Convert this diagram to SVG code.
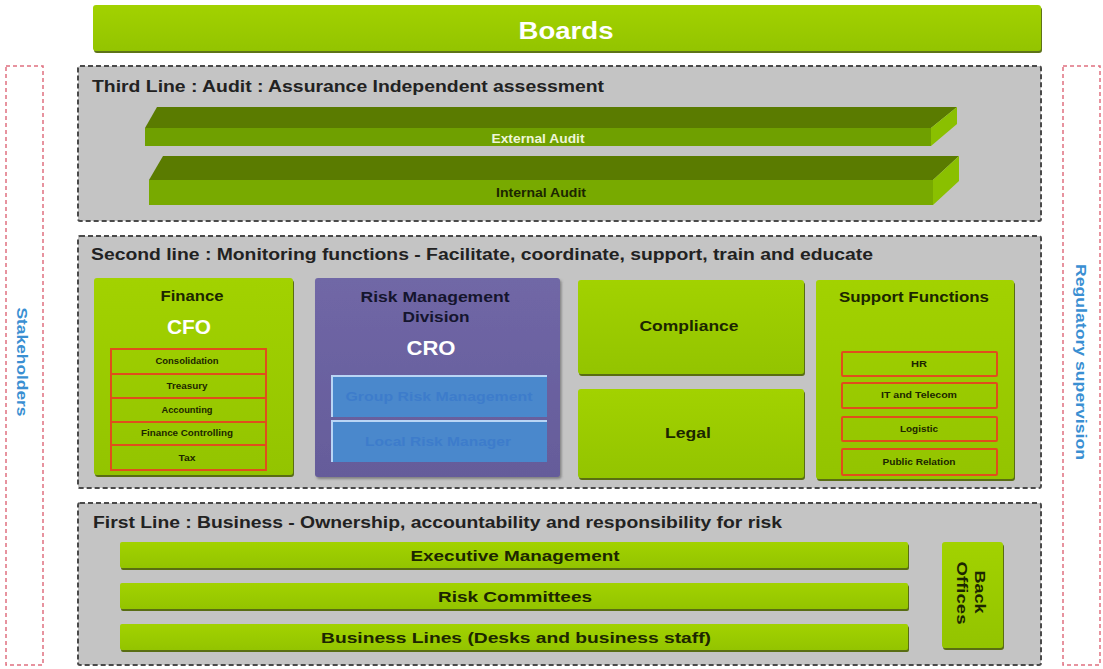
<svg xmlns="http://www.w3.org/2000/svg" width="1103" height="669" viewBox="0 0 1103 669">
  <defs>
    <linearGradient id="lime" x1="0" y1="0" x2="0" y2="1">
      <stop offset="0" stop-color="#a2d200"/>
      <stop offset="1" stop-color="#93c400"/>
    </linearGradient>
    <linearGradient id="violet" x1="0" y1="0" x2="0" y2="1">
      <stop offset="0" stop-color="#7067a6"/>
      <stop offset="1" stop-color="#655c9a"/>
    </linearGradient>
    <filter id="drop" x="-5%" y="-10%" width="110%" height="130%">
      <feDropShadow dx="1" dy="2" stdDeviation="0.7" flood-color="#4d6400" flood-opacity="0.9"/>
    </filter>
    <filter id="dropGrey" x="-5%" y="-10%" width="110%" height="130%">
      <feDropShadow dx="1.5" dy="2" stdDeviation="1" flood-color="#555" flood-opacity="0.6"/>
    </filter>
  </defs>
  <style>
    text { font-family: "Liberation Sans", Arial, sans-serif; font-weight: bold; }
    .panel { fill: #c4c4c4; stroke: #4a4a4a; stroke-width: 2; stroke-dasharray: 5 3; }
    .side { fill: none; stroke: #e07080; stroke-width: 1.5; stroke-dasharray: 4 3; }
    .bar { fill: url(#lime); filter: url(#drop); }
    .head { font-size: 16px; fill: #222; }
    .dark { fill: #1c2600; text-anchor: middle; }
    .lbl { font-size: 15px; }
    .small { font-size: 9px; }
    .item { fill: none; stroke: #e04e1c; stroke-width: 2; }
    .white { fill: #ffffff; text-anchor: middle; }
    .blue { fill: #3a8fd2; font-size: 14px; text-anchor: middle; }
    .sub { fill: #4a88cc; }
    .subtxt { fill: #3d7ccb; font-size: 13px; text-anchor: middle; }
  </style>

  <!-- Boards -->
  <g id="boards">
    <rect class="bar" x="93" y="5" width="948" height="46" rx="3"/>
    <text class="white" x="566" y="39" font-size="24" textLength="95" lengthAdjust="spacingAndGlyphs">Boards</text>
  </g>

  <!-- Stakeholders (left side) -->
  <g id="stakeholders">
    <rect class="side" x="6" y="66" width="37" height="599"/>
    <text class="blue" transform="translate(22,362) rotate(90)" dominant-baseline="central" textLength="109" lengthAdjust="spacingAndGlyphs">Stakeholders</text>
  </g>

  <!-- Regulatory supervision (right side) -->
  <g id="regulatory">
    <rect class="side" x="1063" y="66" width="37" height="599"/>
    <text class="blue" transform="translate(1081,362) rotate(90)" dominant-baseline="central" textLength="196" lengthAdjust="spacingAndGlyphs">Regulatory supervision</text>
  </g>

  <!-- Third line -->
  <g id="third-line">
    <rect class="panel" x="78" y="66" width="963" height="155" rx="2"/>
    <text class="head" x="92" y="92" textLength="512" lengthAdjust="spacingAndGlyphs">Third Line : Audit : Assurance  Independent assessment</text>
  </g>

  <g id="external-audit">
    <polygon points="157,107 957,107 931,128 145,128" fill="#5a7b00"/>
    <rect x="145" y="128" width="786" height="18" fill="#6fa000"/>
    <polygon points="931,128 957,107 957,124 931,146" fill="#8ac000"/>
    <text class="white" x="538" y="143" font-size="12" fill="#eef6d8" textLength="93" lengthAdjust="spacingAndGlyphs" style="fill:#eef6d8">External Audit</text>
  </g>

  <g id="internal-audit">
    <polygon points="163,156 959,156 933,180 149,180" fill="#5a7b00"/>
    <rect x="149" y="180" width="784" height="25" fill="#78aa00"/>
    <polygon points="933,180 959,156 959,181 933,205" fill="#8ac000"/>
    <text class="dark" x="541" y="197" font-size="12" textLength="90" lengthAdjust="spacingAndGlyphs">Internal Audit</text>
  </g>

  <!-- Second line -->
  <g id="second-line">
    <rect class="panel" x="78" y="236" width="963" height="252" rx="2"/>
    <text class="head" x="91" y="260" textLength="782" lengthAdjust="spacingAndGlyphs">Second line : Monitoring functions - Facilitate, coordinate, support, train and educate</text>
  </g>

  <g id="finance">
    <rect class="bar" x="94" y="278" width="199" height="197" rx="3"/>
    <text class="dark lbl" x="192" y="301" font-weight="normal" style="font-weight:600" textLength="63" lengthAdjust="spacingAndGlyphs">Finance</text>
    <text class="white" x="189" y="334" font-size="20" textLength="44" lengthAdjust="spacingAndGlyphs">CFO</text>
    <rect class="item" x="111" y="349" width="155" height="25"/>
    <rect class="item" x="111" y="374" width="155" height="24"/>
    <rect class="item" x="111" y="398" width="155" height="24"/>
    <rect class="item" x="111" y="422" width="155" height="23"/>
    <rect class="item" x="111" y="445" width="155" height="25"/>
    <text class="dark small" x="187" y="364" textLength="63" lengthAdjust="spacingAndGlyphs">Consolidation</text>
    <text class="dark small" x="187" y="389" textLength="41" lengthAdjust="spacingAndGlyphs">Treasury</text>
    <text class="dark small" x="187" y="413" textLength="51" lengthAdjust="spacingAndGlyphs">Accounting</text>
    <text class="dark small" x="187" y="436" textLength="92" lengthAdjust="spacingAndGlyphs">Finance Controlling</text>
    <text class="dark small" x="187" y="461" textLength="17" lengthAdjust="spacingAndGlyphs">Tax</text>
  </g>

  <g id="risk-management">
    <rect x="315" y="278" width="245" height="199" rx="3" fill="url(#violet)" filter="url(#dropGrey)"/>
    <text class="lbl" x="435" y="302" text-anchor="middle" fill="#15152e" textLength="149" lengthAdjust="spacingAndGlyphs">Risk Management</text>
    <text class="lbl" x="436" y="322" text-anchor="middle" fill="#15152e" textLength="67" lengthAdjust="spacingAndGlyphs">Division</text>
    <text class="white" x="431" y="355" font-size="20" textLength="49" lengthAdjust="spacingAndGlyphs">CRO</text>
    <rect class="sub" x="332" y="376" width="215" height="41"/>
    <path d="M332,417 V376 H547" fill="none" stroke="#b9d5f5" stroke-width="2"/>
    <rect class="sub" x="332" y="421" width="215" height="41"/>
    <path d="M332,462 V421 H547" fill="none" stroke="#b9d5f5" stroke-width="2"/>
    <text class="subtxt" x="439" y="401" textLength="187" lengthAdjust="spacingAndGlyphs">Group Risk Management</text>
    <text class="subtxt" x="438" y="446" textLength="146" lengthAdjust="spacingAndGlyphs">Local Risk Manager</text>
  </g>

  <g id="compliance">
    <rect class="bar" x="578" y="280" width="226" height="94" rx="3"/>
    <text class="dark lbl" x="689" y="331" textLength="99" lengthAdjust="spacingAndGlyphs">Compliance</text>
  </g>

  <g id="legal">
    <rect class="bar" x="578" y="389" width="226" height="89" rx="3"/>
    <text class="dark lbl" x="688" y="438" textLength="46" lengthAdjust="spacingAndGlyphs">Legal</text>
  </g>

  <g id="support-functions">
    <rect class="bar" x="816" y="280" width="198" height="199" rx="3"/>
    <text class="dark lbl" x="914" y="302" textLength="150" lengthAdjust="spacingAndGlyphs">Support Functions</text>
    <rect class="item" x="842" y="352" width="155" height="24" rx="1"/>
    <rect class="item" x="842" y="383" width="155" height="25" rx="1"/>
    <rect class="item" x="842" y="417" width="155" height="24" rx="1"/>
    <rect class="item" x="842" y="449" width="155" height="26" rx="1"/>
    <text class="dark small" x="919" y="367" textLength="16" lengthAdjust="spacingAndGlyphs">HR</text>
    <text class="dark small" x="919" y="398" textLength="76" lengthAdjust="spacingAndGlyphs">IT and Telecom</text>
    <text class="dark small" x="919" y="432" textLength="38" lengthAdjust="spacingAndGlyphs">Logistic</text>
    <text class="dark small" x="919" y="465" textLength="73" lengthAdjust="spacingAndGlyphs">Public Relation</text>
  </g>

  <!-- First line -->
  <g id="first-line">
    <rect class="panel" x="78" y="503" width="963" height="162" rx="2"/>
    <text class="head" x="93" y="528" textLength="689" lengthAdjust="spacingAndGlyphs">First Line : Business  - Ownership, accountability and responsibility for risk</text>
  </g>

  <g id="executive-management">
    <rect class="bar" x="120" y="542" width="788" height="26" rx="2"/>
    <text class="dark lbl" x="515" y="561" textLength="209" lengthAdjust="spacingAndGlyphs">Executive Management</text>
  </g>

  <g id="risk-committees">
    <rect class="bar" x="120" y="583" width="788" height="26" rx="2"/>
    <text class="dark lbl" x="515" y="602" textLength="154" lengthAdjust="spacingAndGlyphs">Risk Committees</text>
  </g>

  <g id="business-lines">
    <rect class="bar" x="120" y="624" width="788" height="26" rx="2"/>
    <text class="dark lbl" x="516" y="643" textLength="390" lengthAdjust="spacingAndGlyphs">Business Lines (Desks and business staff)</text>
  </g>

  <g id="back-offices">
    <rect class="bar" x="942" y="542" width="61" height="106" rx="3"/>
    <text class="dark lbl" transform="translate(980,592) rotate(90)" dominant-baseline="central" textLength="43" lengthAdjust="spacingAndGlyphs">Back</text>
    <text class="dark lbl" transform="translate(962,593) rotate(90)" dominant-baseline="central" textLength="63" lengthAdjust="spacingAndGlyphs">Offices</text>
  </g>
</svg>
